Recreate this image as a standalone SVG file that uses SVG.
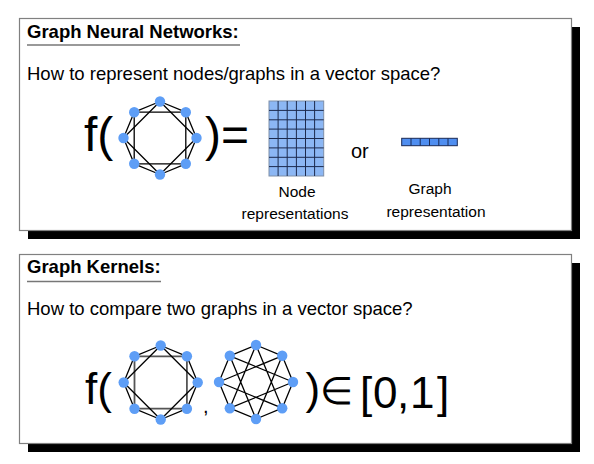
<svg xmlns="http://www.w3.org/2000/svg" width="594" height="464" viewBox="0 0 594 464">
<style>
.shadow{fill:#000}
.box{fill:#fff;stroke:#808080;stroke-width:1.2}
.hdr{font-family:"Liberation Sans",Arial,sans-serif;font-weight:bold;font-size:18.5px;fill:#000}
.txt{font-family:"Liberation Sans",Arial,sans-serif;font-size:18.5px;fill:#000}
.lbl{font-family:"Liberation Sans",Arial,sans-serif;font-size:15.5px;fill:#000;text-anchor:middle}
.big{font-family:"Liberation Sans",Arial,sans-serif;fill:#000}
.ul{stroke:#777;stroke-width:1.5}
.e{fill:none;stroke:#000;stroke-width:1.3;stroke-linejoin:round}
.eg{fill:none;stroke:#555;stroke-width:1.8}
.n{fill:#5e9ef6}
</style>
<rect width="594" height="464" fill="#fff"/>

<g id="panel-gnn">
<rect class="shadow" x="28" y="27" width="552" height="212"/>
<rect class="box" x="19.5" y="18.5" width="552" height="212"/>
<text class="hdr" x="27" y="38">Graph Neural Networks:</text>
<line class="ul" x1="27" y1="45" x2="240" y2="45"/>
<text class="txt" x="27" y="80">How to represent nodes/graphs in a vector space?</text>
<text class="big" x="84" y="151" font-size="48">f(</text>
<text class="big" x="205" y="151" font-size="48">)=</text>
<text class="big" x="351" y="158" font-size="20">or</text>
</g>

<g id="graph-gnn">
<polygon class="e" points="160,101.5 185.8,112.2 196.5,138 185.8,163.8 160,174.5 134.2,163.8 123.5,138 134.2,112.2"/>
<polygon class="e" points="185.8,112.2 185.8,163.8 134.2,163.8 134.2,112.2"/>
<polygon class="e" points="160,101.5 196.5,138 160,174.5 123.5,138"/>
<circle class="n" cx="160" cy="101.5" r="5.2"/>
<circle class="n" cx="185.8" cy="112.2" r="5.2"/>
<circle class="n" cx="196.5" cy="138" r="5.2"/>
<circle class="n" cx="185.8" cy="163.8" r="5.2"/>
<circle class="n" cx="160" cy="174.5" r="5.2"/>
<circle class="n" cx="134.2" cy="163.8" r="5.2"/>
<circle class="n" cx="123.5" cy="138" r="5.2"/>
<circle class="n" cx="134.2" cy="112.2" r="5.2"/>
</g>

<g id="node-representations">
<rect x="269" y="101" width="54.7" height="75" fill="#8cb7f4" stroke="#7f8fa8" stroke-width="1"/>
<g stroke="#1c2a4e" stroke-width="1">
<line x1="278.1" y1="101" x2="278.1" y2="176"/>
<line x1="287.2" y1="101" x2="287.2" y2="176"/>
<line x1="296.4" y1="101" x2="296.4" y2="176"/>
<line x1="305.5" y1="101" x2="305.5" y2="176"/>
<line x1="314.6" y1="101" x2="314.6" y2="176"/>
<line x1="269" y1="110.4" x2="323.7" y2="110.4"/>
<line x1="269" y1="119.8" x2="323.7" y2="119.8"/>
<line x1="269" y1="129.1" x2="323.7" y2="129.1"/>
<line x1="269" y1="138.5" x2="323.7" y2="138.5"/>
<line x1="269" y1="147.9" x2="323.7" y2="147.9"/>
<line x1="269" y1="157.3" x2="323.7" y2="157.3"/>
<line x1="269" y1="166.6" x2="323.7" y2="166.6"/>
</g>
<text class="lbl" x="297" y="197">Node</text>
<text class="lbl" x="295" y="219">representations</text>
</g>

<g id="graph-representation">
<rect x="401.7" y="138.3" width="55.6" height="7.4" fill="#4f8ef0" stroke="#1a2a55" stroke-width="1"/>
<g stroke="#1a2a55" stroke-width="1">
<line x1="411" y1="138.3" x2="411" y2="145.7"/>
<line x1="420.2" y1="138.3" x2="420.2" y2="145.7"/>
<line x1="429.5" y1="138.3" x2="429.5" y2="145.7"/>
<line x1="438.8" y1="138.3" x2="438.8" y2="145.7"/>
<line x1="448" y1="138.3" x2="448" y2="145.7"/>
</g>
<text class="lbl" x="430" y="194">Graph</text>
<text class="lbl" x="436" y="217">representation</text>
</g>

<g id="panel-kernels">
<rect class="shadow" x="28" y="263" width="552" height="189"/>
<rect class="box" x="19.5" y="254.5" width="552" height="189"/>
<text class="hdr" x="27" y="273">Graph Kernels:</text>
<line class="ul" x1="27" y1="281.5" x2="161" y2="281.5"/>
<text class="txt" x="27" y="315">How to compare two graphs in a vector space?</text>
<text class="big" x="85" y="404" font-size="44">f(</text>
<text class="big" x="203" y="413" font-size="20">,</text>
<text class="big" x="305.5" y="404" font-size="44">)</text>
<text class="big" x="320" y="404" font-size="38">∈</text>
<text class="big" x="360 373 397 404 410 437" y="408" font-size="44">[0, 1]</text>
</g>

<g id="graph-k1">
<polygon class="e" points="160.7,345.5 186.9,356.3 197.7,382.5 186.9,408.7 160.7,419.5 134.5,408.7 123.7,382.5 134.5,356.3"/>
<polygon class="eg" points="186.9,356.3 186.9,408.7 134.5,408.7 134.5,356.3"/>
<polygon class="e" points="160.7,345.5 197.7,382.5 160.7,419.5 123.7,382.5"/>
<circle class="n" cx="160.7" cy="345.5" r="5.2"/>
<circle class="n" cx="186.9" cy="356.3" r="5.2"/>
<circle class="n" cx="197.7" cy="382.5" r="5.2"/>
<circle class="n" cx="186.9" cy="408.7" r="5.2"/>
<circle class="n" cx="160.7" cy="419.5" r="5.2"/>
<circle class="n" cx="134.5" cy="408.7" r="5.2"/>
<circle class="n" cx="123.7" cy="382.5" r="5.2"/>
<circle class="n" cx="134.5" cy="356.3" r="5.2"/>
</g>

<g id="graph-k2">
<polygon class="e" points="256,345 282.2,355.8 293,382 282.2,408.2 256,419 229.8,408.2 219,382 229.8,355.8"/>
<polygon class="e" points="256,345 282.2,408.2 219,382 282.2,355.8 256,419 229.8,355.8 293,382 229.8,408.2"/>
<circle class="n" cx="256" cy="345" r="5.2"/>
<circle class="n" cx="282.2" cy="355.8" r="5.2"/>
<circle class="n" cx="293" cy="382" r="5.2"/>
<circle class="n" cx="282.2" cy="408.2" r="5.2"/>
<circle class="n" cx="256" cy="419" r="5.2"/>
<circle class="n" cx="229.8" cy="408.2" r="5.2"/>
<circle class="n" cx="219" cy="382" r="5.2"/>
<circle class="n" cx="229.8" cy="355.8" r="5.2"/>
</g>
</svg>
